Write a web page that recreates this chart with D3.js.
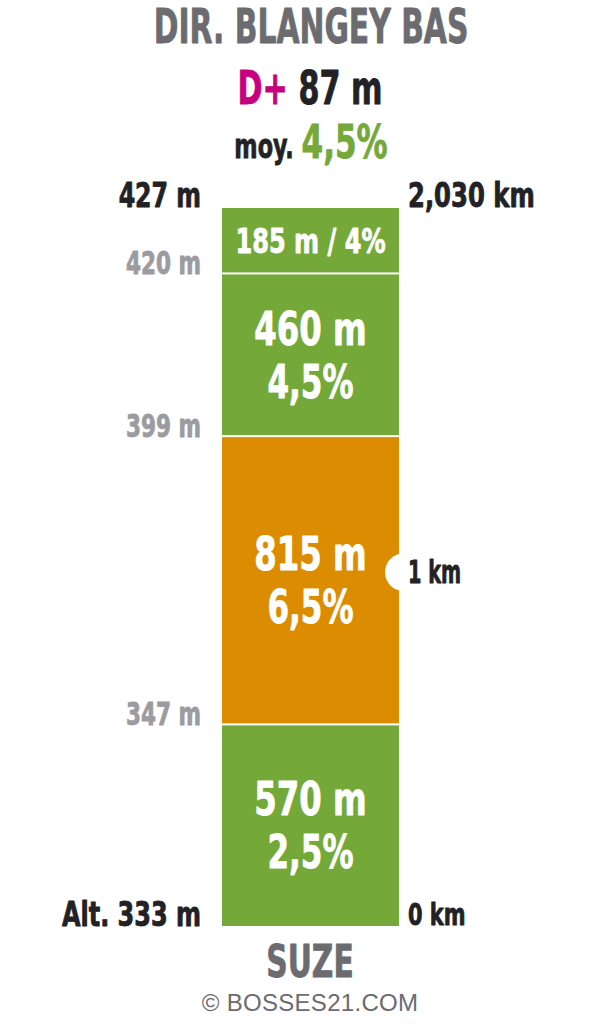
<!DOCTYPE html>
<html><head><meta charset="utf-8">
<script src="https://cdn.jsdelivr.net/npm/d3@7"></script>
<style>html,body{margin:0;padding:0;background:#fff}svg{display:block}</style>
</head><body>
<script>
// ---- data ----
const segLengths = [570, 815, 460, 185];          // metres, bottom to top
const segGrades  = ["2,5%", "6,5%", "4,5%", "4%"];
const gradeValues = [2.5, 6.5, 4.5, 4];
const altitudes = [333, 347, 399, 420, 427];       // at segment boundaries
const totalKm = "2,030 km";
const kmMarks = [0, 1];                            // km markers
const title = "DIR. BLANGEY BAS";
const startName = "SUZE";
const climb = "87 m";
const avgGrade = "4,5%";

const W = 600, H = 1024;
const F = "'DejaVu Sans Condensed','DejaVu Sans',sans-serif";
const CAP = 0.729;
const SX = 0.74;
const green = "#74a93a", orange = "#dc8c00", dark = "#222226", gray = "#6b6b70", lgray = "#9b9ba0", magenta = "#c6007e";

const svg = d3.select("body").append("svg").attr("width", W).attr("height", H);

const total = d3.sum(segLengths);
const y = d3.scaleLinear().domain([0, total]).range([926, 208]);
const x0 = 222, x1 = 399, cx = (x0 + x1) / 2;
const color = g => g >= 5 ? orange : green;

function txt(s, x, yb, cap, anchor, fill, sx = SX, sw = 0.8) {
  return svg.append("text").attr("font-family", F).attr("font-weight", "bold")
    .attr("font-size", cap / CAP).attr("fill", fill).attr("text-anchor", anchor)
    .attr("stroke", fill).attr("stroke-width", sw).attr("stroke-linejoin", "round")
    .attr("transform", `translate(${x},${yb}) scale(${sx},1)`).text(s);
}

const starts = segLengths.map((d, i) => d3.sum(segLengths.slice(0, i)));

// bars
svg.selectAll("rect.seg").data(segLengths).join("rect").attr("class", "seg")
  .attr("x", x0).attr("width", x1 - x0)
  .attr("y", (d, i) => y(starts[i] + d) + (i === segLengths.length - 1 ? 0 : 1))
  .attr("height", (d, i) => y(starts[i]) - y(starts[i] + d) - (i === segLengths.length - 1 ? 0 : 1) - (i === 0 ? 0 : 1))
  .attr("fill", (d, i) => color(gradeValues[i]));

// 1 km marker circle
svg.append("circle").attr("cx", x1 + 5).attr("cy", y(1000)).attr("r", 19).attr("fill", "#fff");

// segment labels
segLengths.forEach((d, i) => {
  const top = y(starts[i] + d), bot = y(starts[i]);
  const mid = (top + bot) / 2;
  if (bot - top < 100) {
    txt(`${d} m / ${segGrades[i]}`, cx, mid + 12.5, 25, "middle", "#fff", 0.78);
  } else {
    txt(`${d} m`, cx, mid - 10, 34, "middle", "#fff", 0.77);
    txt(segGrades[i], cx, mid + 43, 34, "middle", "#fff", 0.74);
  }
});

// altitude labels
altitudes.forEach((a, i) => {
  const yy = y(d3.sum(segLengths.slice(0, i)));
  if (i === 0) txt(`Alt. ${a} m`, 201, yy, 24, "end", dark, 0.81);
  else if (i === altitudes.length - 1) txt(`${a} m`, 201, 207, 24, "end", dark, 0.8);
  else txt(`${a} m`, 201, yy + 1, 23, "end", lgray, 0.76);
});

// km labels
txt(totalKm, 408, 207, 24, "start", dark, 0.82);
txt(`${kmMarks[0]} km`, 408, 925, 22, "start", dark, 0.77);
txt(`${kmMarks[1]} km`, 408, y(1000) + 11, 23, "start", dark, 0.68);

// header
txt(title, 311, 43, 35, "middle", gray, 0.69);
const l2 = svg.append("text").attr("font-family", F).attr("font-weight", "bold")
  .attr("font-size", 34 / CAP).attr("text-anchor", "middle").attr("stroke-width", 0.8)
  .attr("transform", `translate(310,104) scale(0.72,1)`);
l2.append("tspan").attr("fill", magenta).attr("stroke", magenta).text("D+ ");
l2.append("tspan").attr("fill", dark).attr("stroke", dark).text(climb);
const l3 = svg.append("text").attr("font-family", F).attr("font-weight", "bold")
  .attr("text-anchor", "middle").attr("stroke-width", 0.8)
  .attr("transform", `translate(311,158) scale(${SX},1)`);
l3.append("tspan").attr("fill", dark).attr("stroke", dark).attr("font-size", 34 / CAP * 0.72).text("moy. ");
l3.append("tspan").attr("fill", green).attr("stroke", green).attr("font-size", 34 / CAP).text(avgGrade);

// footer
txt(startName, 310, 977, 33, "middle", gray, 0.73);
svg.append("text").attr("x", 310).attr("y", 1011).attr("text-anchor", "middle")
  .attr("font-family", "'Liberation Sans',Arial,sans-serif").attr("font-size", 24)
  .attr("letter-spacing", 0.3).attr("fill", gray).text("© BOSSES21.COM");
</script>
</body></html>
